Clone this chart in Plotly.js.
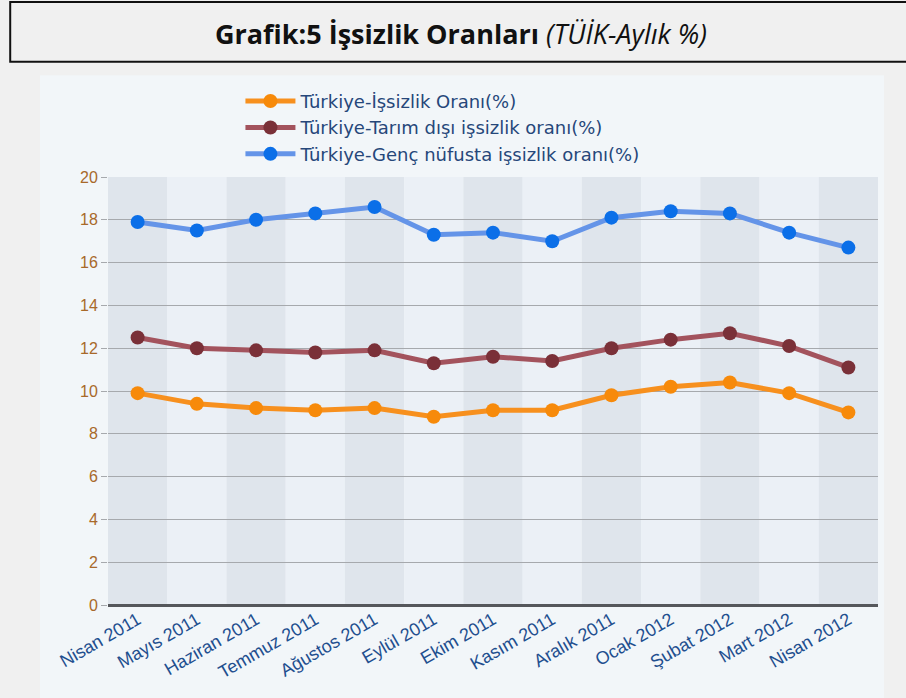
<!DOCTYPE html>
<html>
<head>
<meta charset="utf-8">
<script src="https://cdn.plot.ly/plotly-3.0.1.min.js"></script>
<style>
html,body{margin:0;padding:0;background:#f0f0f0;}
#chart{width:906px;height:698px;}
</style>
</head>
<body>
<div id="chart"></div>
<script>
var months = ["Nisan 2011","Mayıs 2011","Haziran 2011","Temmuz 2011","Ağustos 2011","Eylül 2011","Ekim 2011","Kasım 2011","Aralık 2011","Ocak 2012","Şubat 2012","Mart 2012","Nisan 2012"];
var issizlik = [9.9, 9.4, 9.2, 9.1, 9.2, 8.8, 9.1, 9.1, 9.8, 10.2, 10.4, 9.9, 9.0];
var tarimDisi = [12.5, 12.0, 11.9, 11.8, 11.9, 11.3, 11.6, 11.4, 12.0, 12.4, 12.7, 12.1, 11.1];
var genc = [17.9, 17.5, 18.0, 18.3, 18.6, 17.3, 17.4, 17.0, 18.1, 18.4, 18.3, 17.4, 16.7];
var seriesNames = ["Türkiye-İşsizlik Oranı(%)","Türkiye-Tarım dışı işsizlik oranı(%)","Türkiye-Genç nüfusta işsizlik oranı(%)"];
var yTicks = [0,2,4,6,8,10,12,14,16,18,20];

var idx = months.map(function(_, i){ return i; });

function tr(y, name, lineColor, markerColor){
  return {
    x: idx, y: y, name: name, type: 'scatter', mode: 'lines+markers',
    line: {color: lineColor, width: 5},
    marker: {color: markerColor, size: 14},
    cliponaxis: false
  };
}

var data = [
  tr(issizlik, seriesNames[0], '#f7901e', '#f78a0a'),
  tr(tarimDisi, seriesNames[1], '#a3535d', '#7a3038'),
  tr(genc, seriesNames[2], '#6494e8', '#0b6fe8')
];

var shapes = [
  {type:'rect', xref:'paper', yref:'paper', x0:-0.0883, x1:1.0078, y0:-0.35, y1:1.238,
   fillcolor:'#f2f6f9', line:{width:0}, layer:'below'},
  {type:'rect', xref:'paper', yref:'paper', x0:-0.127, x1:1.05, y0:1.269, y1:1.409,
   fillcolor:'#f0f0f0', line:{color:'#111', width:2}, layer:'below'}
];
idx.forEach(function(i){
  shapes.push({type:'rect', xref:'x', yref:'paper', x0:i-0.5, x1:i+0.5, y0:0, y1:1,
    fillcolor: (i % 2 === 0) ? '#dfe5ec' : '#ebf0f6', line:{width:0}, layer:'below'});
});

var layout = {
  width: 906, height: 698,
  margin: {l:108, r:28, t:177, b:93},
  paper_bgcolor: '#f0f0f0',
  plot_bgcolor: 'rgba(0,0,0,0)',
  showlegend: true,
  legend: {x:0.172, y:1.22, xanchor:'left', yanchor:'top', bgcolor:'rgba(0,0,0,0)',
    font:{family:'DejaVu Sans', size:18, color:'#26477a'}, tracegroupgap:0, itemwidth:50},
  xaxis: {
    range:[-0.5, 12.5], tickmode:'array', tickvals: idx, ticktext: months,
    tickangle:-30, showgrid:false, zeroline:false, showline:false, ticks:'',
    tickfont:{family:'Liberation Sans', size:18, color:'#1f4f8f'}, fixedrange:true
  },
  yaxis: {
    range:[0, 20], tickmode:'array', tickvals: yTicks, showgrid:true,
    gridcolor:'#a6a9ad', gridwidth:1, zeroline:true, zerolinecolor:'#55575b', zerolinewidth:3,
    ticks:'outside', ticklen:6, tickcolor:'#a6a9ad', showline:false,
    tickfont:{family:'Liberation Sans', size:16, color:'#a8692a'}, fixedrange:true
  },
  shapes: shapes,
  annotations: [{
    xref:'paper', yref:'paper', x:0.4584, y:1.336, xanchor:'center', yanchor:'middle', showarrow:false,
    text:'<b>Grafik:5 İşsizlik Oranları</b> <i>(TÜİK-Aylık %)</i>',
    font:{family:'Open Sans', size:27, color:'#111'}
  }]
};

Plotly.newPlot('chart', data, layout, {displayModeBar:false, staticPlot:true});
</script>
</body>
</html>
